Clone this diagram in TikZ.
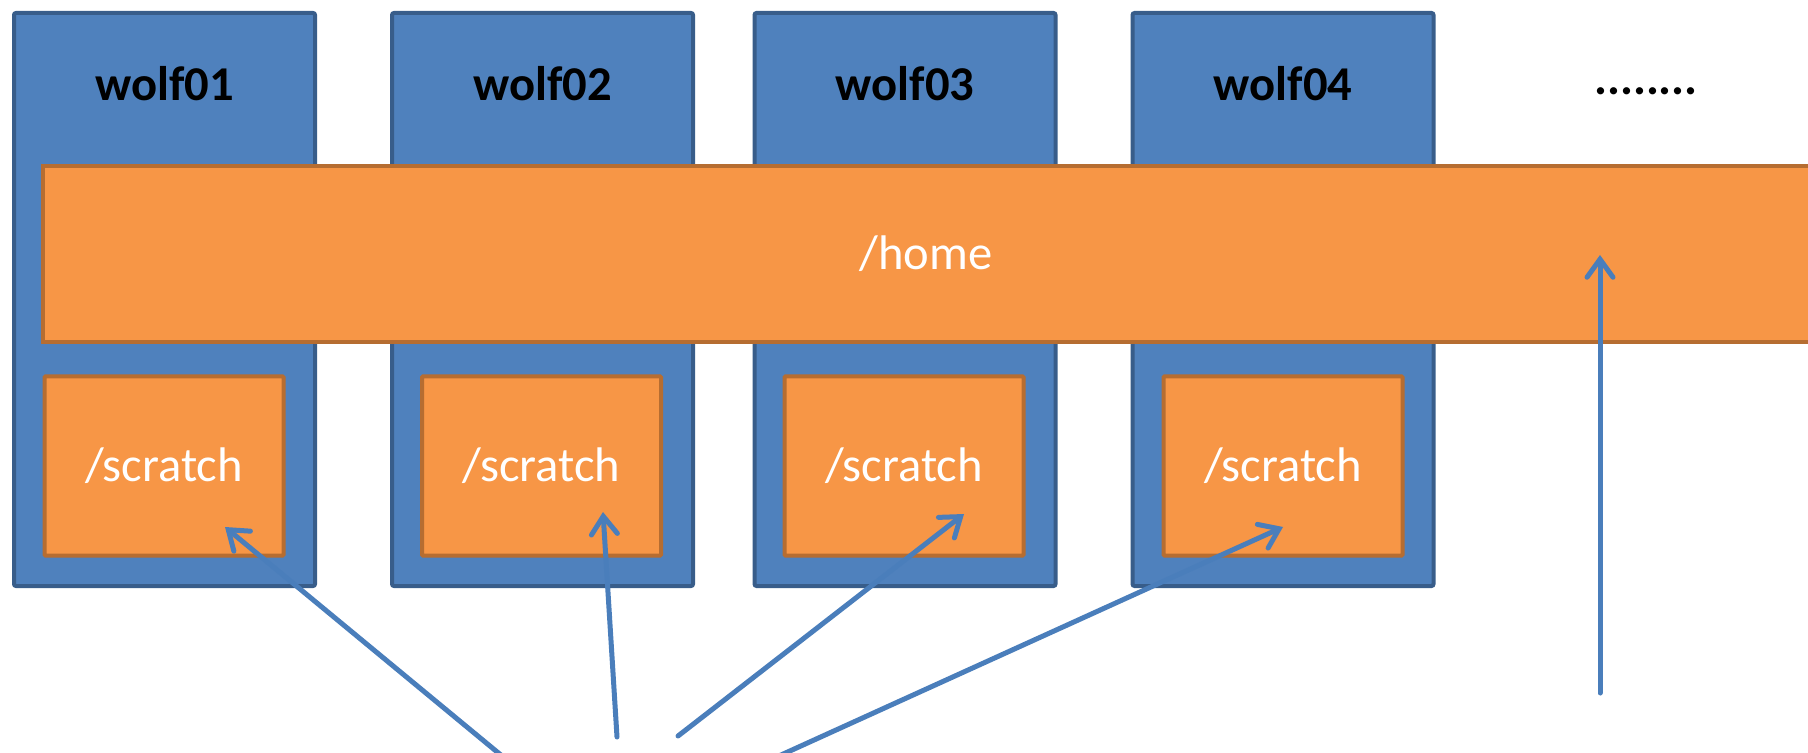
\documentclass[tikz,border=0pt]{standalone}
\usepackage{fontspec}
\setmainfont{Carlito}
\usetikzlibrary{ arrows.meta, % For the open arrow tips
               }
\definecolor{hostfill}{HTML}{4F81BD}
\definecolor{hostline}{HTML}{385D8A}
\definecolor{diskfill}{HTML}{F79646}
\definecolor{diskline}{HTML}{B66D31}
\definecolor{linkblue}{HTML}{4A7EBB}
\tikzstyle{host} = [rectangle, rounded corners=1pt, fill=hostfill, draw=hostline, line width=2pt, minimum width=150.5pt, minimum height=286.5pt]
\tikzstyle{hostname} = [font=\fontsize{24.3}{29}\selectfont\bfseries, text=black]
\tikzstyle{share} = [rectangle, fill=diskfill, draw=diskline, line width=2pt, minimum width=900pt, minimum height=88pt]
\tikzstyle{mountname} = [font=\fontsize{24.3}{29}\selectfont, text=white]
\tikzstyle{scratchdisk} = [rectangle, rounded corners=0.5pt, fill=diskfill, draw=diskline, line width=2pt, minimum width=119.5pt, minimum height=89.5pt, font=\fontsize{24.3}{29}\selectfont, text=white]
\tikzstyle{link} = [draw=linkblue, line width=2.5pt, line cap=round, -{Straight Barb[length=9pt, width=13pt, line cap=round]}]

\begin{document}
\begin{tikzpicture}[x=0.5pt, y=-0.5pt]
  \useasboundingbox (0,0) rectangle (1808,753);
  \clip (0,0) rectangle (1808,753);

  % the nodes
  \node (w1) [host] at (164.5,299.5) {};
  \node (w2) [host] at (542.5,299.5) {};
  \node (w3) [host] at (905,299.5) {};
  \node (w4) [host] at (1283,299.5) {};
  \node (n1) [hostname] at (164.5,84) {wolf01};
  \node (n2) [hostname] at (542.5,84) {wolf02};
  \node (n3) [hostname] at (905,84) {wolf03};
  \node (n4) [hostname] at (1283,84) {wolf04};
  \node (more) [hostname] at (1646,91) {........};

  % shared and local storage
  \node (home) [share] at (943,254) {};
  \node (homename) [mountname] at (926,254) {/home};
  \node (s1) [scratchdisk] at (164,466) {/scratch};
  \node (s2) [scratchdisk] at (541.5,466) {/scratch};
  \node (s3) [scratchdisk] at (904,466) {/scratch};
  \node (s4) [scratchdisk] at (1283,466) {/scratch};

  % arrows from below
  \coordinate (t1) at (519,770);
  \coordinate (t2) at (617,737);
  \coordinate (t3) at (678,736);
  \coordinate (t4) at (748,770);
  \coordinate (t5) at (1600,693);
  \coordinate (h1) at (225,527);
  \coordinate (h2) at (603,512);
  \coordinate (h3) at (964,514);
  \coordinate (h4) at (1283,527);
  \coordinate (h5) at (1600,255);
  \foreach \i in {1,...,5}
    \draw [link] (t\i) -- (h\i);
\end{tikzpicture}
\end{document}
